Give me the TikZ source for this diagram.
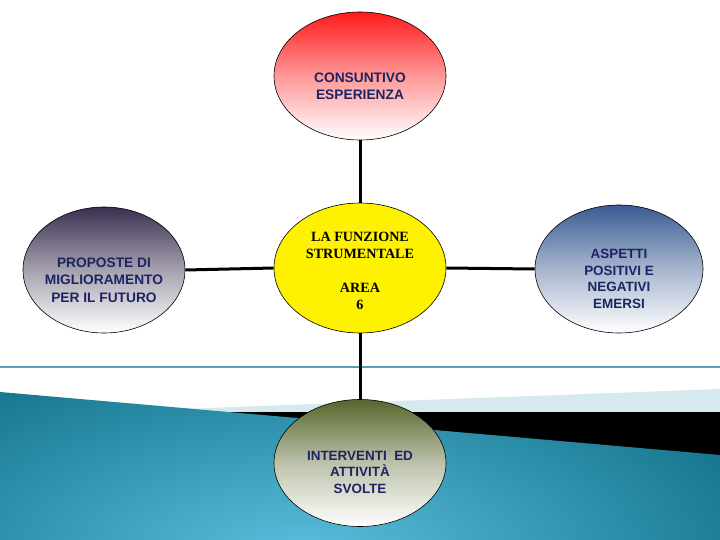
\documentclass[tikz,border=0pt]{standalone}
\usepackage{fontspec}
\setmainfont{Liberation Serif}
\newfontfamily\arialf{Liberation Sans}
\usetikzlibrary{shapes.geometric}
\definecolor{navytxt}{HTML}{1C2462}
\definecolor{tealline}{HTML}{5A9FB5}
\definecolor{bluedark}{HTML}{16768F}
\definecolor{bluelight}{HTML}{5CC0DF}
\definecolor{paleband}{HTML}{D6E9EF}
\definecolor{redtop}{HTML}{FF1A1A}
\definecolor{purpletop}{HTML}{3A2F4F}
\definecolor{bluetop}{HTML}{3A5C92}
\definecolor{olivetop}{HTML}{56662C}
\tikzset{
  bubble/.style={ellipse, draw=black, line width=0.6pt, inner sep=0pt,
    minimum width=172bp, minimum height=128bp},
  btext/.style={align=center, inner sep=0pt, text=navytxt,
    font=\arialf\bfseries\fontsize{13.8}{17.5}\selectfont},
  hub/.style={ellipse, draw=black, line width=0.6pt, inner sep=0pt, fill=yellow,
    minimum width=172bp, minimum height=130bp},
  hubtext/.style={align=center, inner sep=0pt, font=\bfseries\fontsize{14.2}{17}\selectfont},
  link/.style={line width=3bp, black}
}
\begin{document}
\begin{tikzpicture}[x=1bp,y=-1bp]
\useasboundingbox (0,0) rectangle (720,540);
\fill[white] (0,0) rectangle (720,540);
% background decoration
\draw[tealline, line width=1.2bp] (0,367) -- (720,367);
\fill[paleband] (100,412) -- (720,389) -- (720,413) -- cycle;
\fill[black] (200,412) -- (720,412) -- (720,462) -- cycle;
\begin{scope}
\clip (0,392) -- (720,455) -- (720,540) -- (0,540) -- cycle;
\shade[inner color=bluelight, outer color=bluedark] (300,560) ellipse (480 and 220);
\end{scope}
% nodes
\node[hub] (c) at (360,268) {};
\node[hubtext] (ct) at (360,271) {LA FUNZIONE\\STRUMENTALE\\[17bp]AREA\\6};
\node[bubble, top color=redtop, bottom color=white, middle color=redtop!45!white] (t) at (360,76) {};
\node[btext] (tt) at (360,86) {CONSUNTIVO\\ESPERIENZA};
\node[bubble, minimum width=162bp, minimum height=126bp, top color=purpletop, bottom color=white, middle color=purpletop!45!white] (l) at (104,270) {};
\node[btext] (lt) at (104,280) {PROPOSTE DI\\MIGLIORAMENTO\\PER IL FUTURO};
\node[bubble, minimum width=168bp, top color=bluetop, bottom color=white, middle color=bluetop!45!white] (r) at (619,269) {};
\node[btext, font=\arialf\bfseries\fontsize{13.5}{16.5}\selectfont] (rt) at (619,279) {ASPETTI\\POSITIVI E\\NEGATIVI\\EMERSI};
\node[bubble, minimum height=127bp, top color=olivetop, bottom color=white, middle color=olivetop!40!white] (b) at (360,463) {};
\node[btext, font=\arialf\bfseries\fontsize{13.5}{16.5}\selectfont] (bt) at (360,472) {INTERVENTI\ \ ED\\ATTIVITÀ\\SVOLTE};
% connectors
\draw[link] (t.south) -- (c.north);
\draw[link] (c.south) -- (b.north);
\draw[link] (l.east) -- (c.west);
\draw[link] (c.east) -- (r.west);
\end{tikzpicture}
\end{document}
